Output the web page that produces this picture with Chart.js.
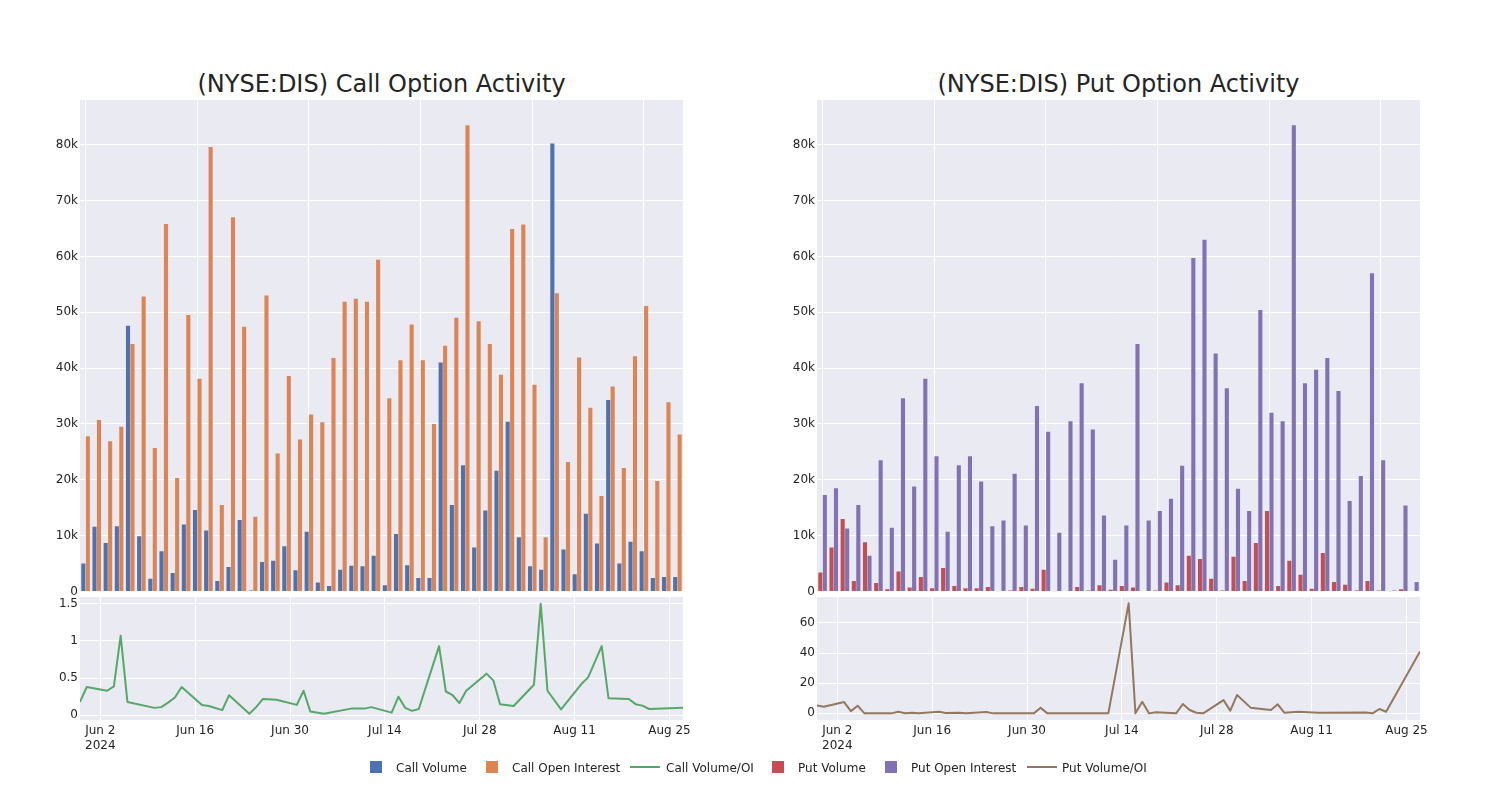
<!DOCTYPE html>
<html>
<head>
<meta charset="utf-8">
<title>(NYSE:DIS) Option Activity</title>
<script src="https://cdn.jsdelivr.net/npm/chart.js@4.4.1/dist/chart.umd.min.js"></script>
<style>
  body { margin: 0; background: #fff; font-family: "DejaVu Sans", sans-serif; }
  #page { position: relative; width: 1500px; height: 800px; overflow: hidden; }
  .title { position: absolute; width: 603px; font-size: 24px; line-height: 24px; color: rgb(36,36,36); text-align: center; white-space: nowrap; }
  canvas { position: absolute; }
  .lg { position: absolute; font-size: 12px; line-height: 12px; color: rgb(36,36,36); white-space: nowrap; }
  .sw { position: absolute; width: 12px; height: 12px; }
  .ln { position: absolute; width: 30px; height: 2px; }
</style>
</head>
<body>
<div id="page">
  <div class="title" style="left:80px; top:72px;">(NYSE:DIS) Call Option Activity</div>
  <div class="title" style="left:817px; top:72px;">(NYSE:DIS) Put Option Activity</div>

  <canvas id="callBars" width="678" height="512" style="left:35px; top:90px;"></canvas>
  <canvas id="callRatio" width="678" height="173" style="left:35px; top:587px;"></canvas>
  <canvas id="putBars" width="678" height="512" style="left:772px; top:90px;"></canvas>
  <canvas id="putRatio" width="678" height="173" style="left:772px; top:587px;"></canvas>

  <div class="sw" style="left:370px; top:761px; background:#4c72b0;"></div>
  <div class="lg" style="left:396px; top:762px;">Call Volume</div>
  <div class="sw" style="left:486px; top:761px; background:#dd8452;"></div>
  <div class="lg" style="left:512px; top:762px;">Call Open Interest</div>
  <div class="ln" style="left:630px; top:766px; background:#55a868;"></div>
  <div class="lg" style="left:666px; top:762px;">Call Volume/OI</div>
  <div class="sw" style="left:772px; top:761px; background:#c44e52;"></div>
  <div class="lg" style="left:798px; top:762px;">Put Volume</div>
  <div class="sw" style="left:885px; top:761px; background:#8172b3;"></div>
  <div class="lg" style="left:911px; top:762px;">Put Open Interest</div>
  <div class="ln" style="left:1027px; top:766px; background:#937860;"></div>
  <div class="lg" style="left:1062px; top:762px;">Put Volume/OI</div>
</div>

<script>
// trading days shown as evenly spaced bar slots
const barDates = [
  "Jun 3", "Jun 4", "Jun 5", "Jun 6", "Jun 7", "Jun 10", "Jun 11", "Jun 12", "Jun 13", "Jun 14",
  "Jun 17", "Jun 18", "Jun 19", "Jun 20", "Jun 21", "Jun 24", "Jun 25", "Jun 26", "Jun 27", "Jun 28",
  "Jul 1", "Jul 2", "Jul 3", "Jul 4", "Jul 5", "Jul 8", "Jul 9", "Jul 10", "Jul 11", "Jul 12",
  "Jul 15", "Jul 16", "Jul 17", "Jul 18", "Jul 19", "Jul 22", "Jul 23", "Jul 24", "Jul 25", "Jul 26",
  "Jul 29", "Jul 30", "Jul 31", "Aug 1", "Aug 2", "Aug 5", "Aug 6", "Aug 7", "Aug 8", "Aug 9",
  "Aug 12", "Aug 13", "Aug 14", "Aug 15"
];

const callVolume = [
  5.0, 11.6, 8.7, 11.7, 47.6, 9.9, 2.3, 7.2, 3.3, 12.0,
  14.6, 10.9, 1.9, 4.4, 12.8, 0.2, 5.3, 5.5, 8.1, 3.8,
  10.7, 1.6, 1.0, 3.9, 4.6, 4.5, 6.4, 1.1, 10.3, 4.7,
  2.4, 2.4, 41.0, 15.5, 22.6, 7.9, 14.5, 21.6, 30.4, 9.7,
  4.5, 3.9, 80.2, 7.5, 3.1, 13.9, 8.6, 34.3, 5.0, 8.9,
  7.2, 2.4, 2.6, 2.6
].map(v => v * 1000);

const callOpenInterest = [
  27.8, 30.7, 26.9, 29.5, 44.3, 52.8, 25.7, 65.8, 20.3, 49.5,
  38.1, 79.6, 15.5, 67.0, 47.4, 13.4, 53.0, 24.7, 38.6, 27.2,
  31.7, 30.3, 41.8, 51.9, 52.4, 51.9, 59.4, 34.6, 41.4, 47.8,
  41.4, 30.0, 44.0, 49.0, 83.5, 48.4, 44.3, 38.8, 64.9, 65.7,
  37.0, 9.7, 53.4, 23.2, 41.9, 32.9, 17.1, 36.7, 22.1, 42.1,
  51.1, 19.8, 33.9, 28.1
].map(v => v * 1000);

const putVolume = [
  3.4, 7.9, 13.0, 1.9, 8.8, 1.5, 0.4, 3.6, 0.7, 2.6,
  0.6, 4.2, 1.0, 0.6, 0.6, 0.8, 0.05, 0.2, 0.8, 0.5,
  3.9, 0.05, 0.1, 0.8, 0.2, 1.1, 0.3, 1.0, 0.7, 0,
  0.2, 1.6, 1.1, 6.4, 5.8, 2.3, 0.2, 6.2, 1.9, 8.7,
  14.4, 1.0, 5.5, 3.0, 0.5, 6.9, 1.7, 1.2, 0.2, 1.9,
  0.2, 0.05, 0.4, 0.1
].map(v => v * 1000);

const putOpenInterest = [
  17.3, 18.5, 11.3, 15.5, 6.4, 23.5, 11.4, 34.6, 18.8, 38.1,
  24.2, 10.7, 22.6, 24.2, 19.7, 11.7, 12.7, 21.1, 11.8, 33.2,
  28.6, 10.5, 30.5, 37.3, 29.0, 13.6, 5.7, 11.8, 44.3, 12.7,
  14.4, 16.6, 22.5, 59.7, 63.0, 42.6, 36.4, 18.4, 14.4, 50.4,
  32.0, 30.5, 83.5, 37.3, 39.7, 41.8, 35.9, 16.2, 20.7, 57.0,
  23.5, 0.2, 15.4, 1.7
].map(v => v * 1000);

const barTicks = [0, 10000, 20000, 30000, 40000, 50000, 60000, 70000, 80000];

// volume / open interest, by calendar date
const callRatioDates = [
  "2024-05-30", "2024-05-31", "2024-06-03", "2024-06-04", "2024-06-05", "2024-06-06", "2024-06-10", "2024-06-11",
  "2024-06-12", "2024-06-13", "2024-06-14", "2024-06-17", "2024-06-18", "2024-06-20", "2024-06-21", "2024-06-24",
  "2024-06-25", "2024-06-26", "2024-06-28", "2024-07-01", "2024-07-02", "2024-07-03", "2024-07-05", "2024-07-09",
  "2024-07-11", "2024-07-12", "2024-07-15", "2024-07-16", "2024-07-17", "2024-07-18", "2024-07-19", "2024-07-22",
  "2024-07-23", "2024-07-24", "2024-07-25", "2024-07-26", "2024-07-29", "2024-07-30", "2024-07-31", "2024-08-02",
  "2024-08-05", "2024-08-06", "2024-08-07", "2024-08-09", "2024-08-12", "2024-08-13", "2024-08-15", "2024-08-16",
  "2024-08-19", "2024-08-20", "2024-08-21", "2024-08-22", "2024-08-27"
];
const callRatio = [
  0.18, 0.38, 0.33, 0.39, 1.07, 0.18, 0.10, 0.11,
  0.17, 0.24, 0.38, 0.14, 0.125, 0.07, 0.27, 0.02,
  0.11, 0.22, 0.21, 0.14, 0.33, 0.05, 0.02, 0.09,
  0.09, 0.11, 0.036, 0.25, 0.10, 0.06, 0.085, 0.93,
  0.32, 0.27, 0.165, 0.33, 0.56, 0.47, 0.15, 0.125,
  0.41, 1.5, 0.33, 0.08, 0.42, 0.51, 0.93, 0.23,
  0.22, 0.15, 0.13, 0.085, 0.10
];

const putRatioDates = [
  "2024-05-30", "2024-05-31", "2024-06-03", "2024-06-04", "2024-06-05", "2024-06-06", "2024-06-10", "2024-06-11",
  "2024-06-12", "2024-06-13", "2024-06-14", "2024-06-17", "2024-06-18", "2024-06-20", "2024-06-21", "2024-06-24",
  "2024-06-25", "2024-07-01", "2024-07-02", "2024-07-03", "2024-07-12", "2024-07-15", "2024-07-16", "2024-07-17",
  "2024-07-18", "2024-07-19", "2024-07-22", "2024-07-23", "2024-07-24", "2024-07-25", "2024-07-26", "2024-07-29",
  "2024-07-30", "2024-07-31", "2024-08-02", "2024-08-05", "2024-08-06", "2024-08-07", "2024-08-09", "2024-08-12",
  "2024-08-19", "2024-08-20", "2024-08-21", "2024-08-22", "2024-08-27"
];
const putRatio = [
  5.3, 4.4, 7.5, 1.5, 5.1, 0, 0, 1.1,
  0.1, 0.4, 0.1, 1.1, 0.3, 0.4, 0.1, 0.9,
  0, 0, 3.8, 0, 0, 73, 0, 7.7,
  0, 0.7, 0, 6.2, 2.2, 0.4, 0, 8.8,
  1.8, 12.2, 3.8, 2.2, 6.0, 0.4, 1.1, 0.4,
  0.5, 0, 2.9, 1.1, 41
];

const ratioTickDays = [0, 14, 28, 42, 56, 70, 84];
const ratioTickLabels = [["Jun 2", "2024"], "Jun 16", "Jun 30", "Jul 14", "Jul 28", "Aug 11", "Aug 25"];
const callRatioTicks = [0, 0.5, 1, 1.5];
const putRatioTicks = [0, 20, 40, 60];

const COLORS = {
  callVol: "#4c72b0",
  callOI: "#dd8452",
  callRatio: "#55a868",
  putVol: "#c44e52",
  putOI: "#8172b3",
  putRatio: "#937860",
  plotBg: "#eaeaf2",
  grid: "#ffffff",
  ink: "rgb(36,36,36)",
  font: "'DejaVu Sans', sans-serif",
};

const DAY0 = Date.parse("2024-06-02T00:00:00Z");
const dayOf = d => Math.round((Date.parse(d + "T00:00:00Z") - DAY0) / 86400000);

const plotBackground = {
  id: "plotBackground",
  beforeDraw(chart) {
    const { ctx, chartArea: a } = chart;
    ctx.save();
    ctx.fillStyle = COLORS.plotBg;
    ctx.fillRect(a.left, a.top, a.right - a.left, a.bottom - a.top);
    ctx.restore();
  }
};

function yAxisFit(scale) {
  scale.width = 45;
  scale.paddingTop = 0;
  scale.paddingBottom = 0;
}

function drawBars(canvasId, volume, openInterest, volColor, oiColor) {
  const canvas = document.getElementById(canvasId);
  const bar = (data, color) => ({
    data,
    backgroundColor: color,
    borderWidth: 0,
    categoryPercentage: 0.8,
    barPercentage: 0.92,
  });

  return new Chart(canvas.getContext("2d"), {
    type: "bar",
    data: {
      labels: barDates,
      datasets: [bar(volume, volColor), bar(openInterest, oiColor)]
    },
    options: {
      responsive: false,
      animation: false,
      layout: { padding: { top: 10, bottom: 10.5, left: 0, right: 30 } },
      plugins: { legend: { display: false }, tooltip: { enabled: false } },
      scales: {
        x: {
          offset: true,
          border: { display: false },
          ticks: { display: false, autoSkip: false },
          grid: {
            offset: false,
            drawTicks: false,
            color: ctx => (ctx.index % 10 === 0 ? COLORS.grid : "rgba(0,0,0,0)"),
          },
          afterFit: s => { s.height = 0; s.paddingLeft = 0; s.paddingRight = 0; }
        },
        y: {
          min: 0,
          max: 88000,
          border: { display: false },
          grid: { color: COLORS.grid, drawTicks: false },
          afterBuildTicks: s => { s.ticks = barTicks.map(v => ({ value: v })); },
          afterFit: yAxisFit,
          ticks: {
            padding: 2,
            color: COLORS.ink,
            font: { family: COLORS.font, size: 12 },
            callback: v => (v === 0 ? "0" : v / 1000 + "k"),
          }
        }
      }
    },
    plugins: [plotBackground]
  });
}

function drawRatio(canvasId, dates, values, color, yMin, yMax, yTicks) {
  const canvas = document.getElementById(canvasId);
  const points = dates.map((d, i) => ({ x: dayOf(d), y: values[i] }));

  return new Chart(canvas.getContext("2d"), {
    type: "line",
    data: {
      datasets: [{
        data: points,
        borderColor: color,
        borderWidth: 2,
        pointRadius: 0,
        tension: 0,
        borderJoinStyle: "round",
      }]
    },
    options: {
      responsive: false,
      animation: false,
      layout: { padding: { top: 10, bottom: 0, left: 0, right: 30 } },
      plugins: { legend: { display: false }, tooltip: { enabled: false } },
      scales: {
        x: {
          type: "linear",
          min: dayOf("2024-05-30"),
          max: dayOf("2024-08-27"),
          border: { display: false },
          grid: { color: COLORS.grid, drawTicks: false },
          afterBuildTicks: s => { s.ticks = ratioTickDays.map(v => ({ value: v })); },
          afterFit: s => { s.height = 40; s.paddingLeft = 0; s.paddingRight = 0; },
          ticks: {
            padding: 4,
            maxRotation: 0,
            autoSkip: false,
            color: COLORS.ink,
            font: { family: COLORS.font, size: 12 },
            callback: (v, i) => ratioTickLabels[i],
          }
        },
        y: {
          min: yMin,
          max: yMax,
          border: { display: false },
          grid: { color: COLORS.grid, drawTicks: false },
          afterBuildTicks: s => { s.ticks = yTicks.map(v => ({ value: v })); },
          afterFit: yAxisFit,
          ticks: {
            padding: 2,
            color: COLORS.ink,
            font: { family: COLORS.font, size: 12 },
            callback: v => String(v),
          }
        }
      }
    },
    plugins: [plotBackground]
  });
}

drawBars("callBars", callVolume, callOpenInterest, COLORS.callVol, COLORS.callOI);
drawBars("putBars", putVolume, putOpenInterest, COLORS.putVol, COLORS.putOI);
drawRatio("callRatio", callRatioDates, callRatio, COLORS.callRatio, -0.063, 1.59, callRatioTicks);
drawRatio("putRatio", putRatioDates, putRatio, COLORS.putRatio, -4.4, 77.2, putRatioTicks);
</script>
</body>
</html>
